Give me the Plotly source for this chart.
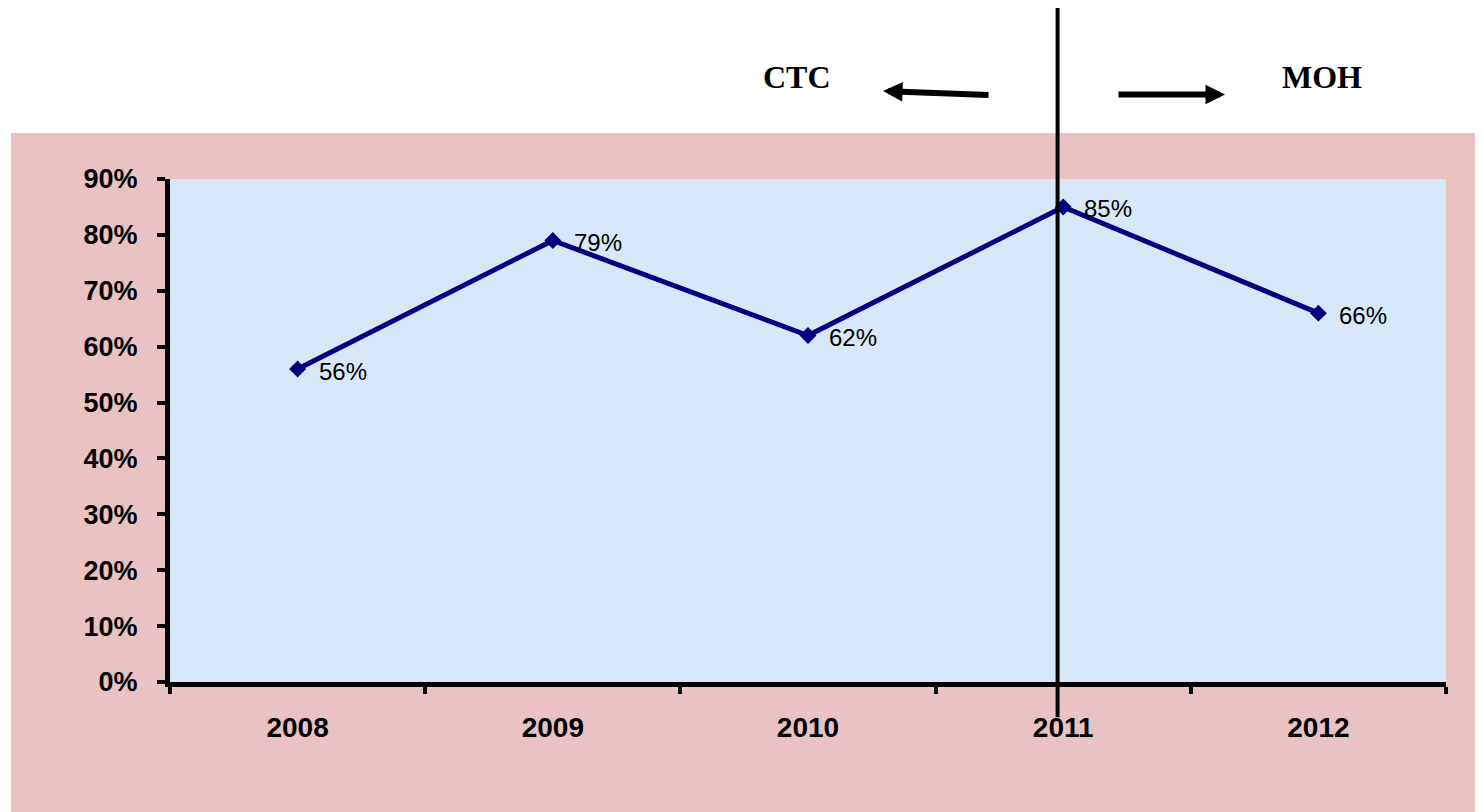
import plotly.graph_objects as go

years = ["2008", "2009", "2010", "2011", "2012"]
values = [0.56, 0.79, 0.62, 0.85, 0.66]
value_labels = ["56%", "79%", "62%", "85%", "66%"]
y_ticks = [0, 0.1, 0.2, 0.3, 0.4, 0.5, 0.6, 0.7, 0.8, 0.9]
y_tick_labels = ["0%", "10%", "20%", "30%", "40%", "50%", "60%", "70%", "80%", "90%"]
left_label = "CTC"
right_label = "MOH"

fig = go.Figure()
fig.add_trace(go.Scatter(
    x=years, y=values, mode="lines+markers",
    line=dict(color="#000080", width=5),
    marker=dict(symbol="diamond", size=13, color="#000080"),
    cliponaxis=False, showlegend=False,
))

for i, (v, lab) in enumerate(zip(values, value_labels)):
    fig.add_annotation(x=i, y=v, xref="x", yref="y", text=lab, showarrow=False,
                       xanchor="left", yanchor="middle", xshift=19, yshift=-2,
                       font=dict(family="Liberation Sans, Arial", size=24, color="black"))

# pink backdrop
fig.add_shape(type="rect", xref="paper", yref="paper",
              x0=-0.1246, x1=1.03, y0=-0.26, y1=1.0915,
              fillcolor="#E9C2C4", line=dict(width=0), layer="below")
# blue plot area
fig.add_shape(type="rect", xref="x domain", yref="y domain",
              x0=0, x1=1, y0=0, y1=1,
              fillcolor="#D7E7F8", line=dict(width=0), layer="below")
# divider line
fig.add_shape(type="line", xref="x", yref="paper",
              x0=2.978, x1=2.978, y0=-0.07, y1=1.4,
              line=dict(color="black", width=4), layer="above")

fig.add_annotation(xref="paper", yref="paper", x=0.4914, y=1.203,
                   xanchor="center", yanchor="middle",
                   text=left_label, showarrow=False,
                   font=dict(family="Liberation Serif, Times New Roman", size=32, color="black", weight="bold"))
fig.add_annotation(xref="paper", yref="paper", x=0.9028, y=1.203,
                   xanchor="center", yanchor="middle",
                   text=right_label, showarrow=False,
                   font=dict(family="Liberation Serif, Times New Roman", size=32, color="black", weight="bold"))
# arrows
fig.add_annotation(xref="paper", yref="paper", axref="pixel", ayref="pixel",
                   x=0.5588, y=1.175, ax=107, ay=4, text="",
                   showarrow=True, arrowhead=2, arrowsize=0.65, arrowwidth=6, arrowcolor="black")
fig.add_annotation(xref="paper", yref="paper", axref="pixel", ayref="pixel",
                   x=0.8268, y=1.168, ax=-108, ay=0, text="",
                   showarrow=True, arrowhead=2, arrowsize=0.65, arrowwidth=6, arrowcolor="black")

fig.update_layout(
    width=1475, height=804,
    margin=dict(l=162, r=37, t=171, b=130),
    paper_bgcolor="white", plot_bgcolor="#D7E7F8",
    xaxis=dict(type="category", range=[-0.5, 4.5], tickson="boundaries",
               ticks="outside", ticklen=7, tickwidth=4, tickcolor="black",
               showline=True, linecolor="black", linewidth=5, showgrid=False,
               zeroline=False, ticklabelstandoff=16,
               tickfont=dict(family="Liberation Sans, Arial", size=28, color="black", weight="bold")),
    yaxis=dict(range=[0, 0.9], tickvals=y_ticks, ticktext=y_tick_labels,
               ticks="outside", ticklen=8, tickwidth=4, tickcolor="black",
               showline=True, linecolor="black", linewidth=5, showgrid=False,
               zeroline=False, ticklabelstandoff=14,
               tickfont=dict(family="Liberation Sans, Arial", size=27, color="black", weight="bold")),
)

fig.write_html("out.html")
